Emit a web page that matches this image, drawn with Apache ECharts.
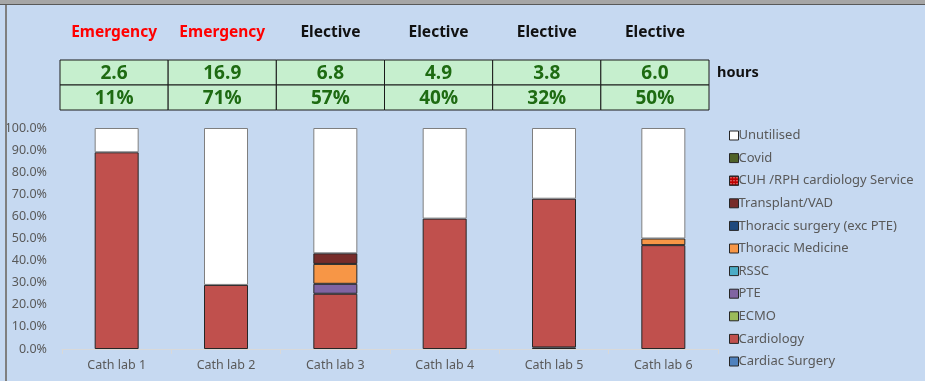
<!DOCTYPE html>
<html>
<head>
<meta charset="utf-8">
<script src="https://cdn.jsdelivr.net/npm/echarts@6/dist/echarts.min.js"></script>
<style>
html,body{margin:0;padding:0;background:#C6D9F1;}
#chart{width:925px;height:381px;}
</style>
</head>
<body>
<div id="chart"></div>
<script>
// ---- data ----
const categories = ['Cath lab 1','Cath lab 2','Cath lab 3','Cath lab 4','Cath lab 5','Cath lab 6'];
const sessionType = ['Emergency','Emergency','Elective','Elective','Elective','Elective'];
const hoursUnutilised = [2.6, 16.9, 6.8, 4.9, 3.8, 6.0];
const pctUnutilised = [11, 71, 57, 40, 32, 50];

const cardiacSurgery   = [0, 0, 0, 0, 0.007, 0];
const cardiology       = [0.89, 0.29, 0.25, 0.59, 0.673, 0.47];
const ecmo             = [0, 0, 0, 0, 0, 0];
const pte              = [0, 0, 0.045, 0, 0, 0];
const rssc             = [0, 0, 0, 0, 0, 0];
const thoracicMedicine = [0, 0, 0.09, 0, 0, 0.03];
const thoracicSurgery  = [0, 0, 0, 0, 0, 0];
const transplantVad    = [0, 0, 0.048, 0, 0, 0];
const cuhRph           = [0, 0, 0, 0, 0, 0];
const covid            = [0, 0, 0, 0, 0, 0];
const unutilised       = [0.11, 0.71, 0.567, 0.41, 0.32, 0.50];

const seriesDefs = [
  ['Cardiac Surgery', cardiacSurgery, '#4F81BD'],
  ['Cardiology', cardiology, '#C0504D'],
  ['ECMO', ecmo, '#9BBB59'],
  ['PTE', pte, '#8064A2'],
  ['RSSC', rssc, '#4BACC6'],
  ['Thoracic Medicine', thoracicMedicine, '#F79646'],
  ['Thoracic surgery (exc PTE)', thoracicSurgery, '#1F497D'],
  ['Transplant/VAD', transplantVad, '#772C2A'],
  ['CUH /RPH cardiology Service', cuhRph, '#C00000'],
  ['Covid', covid, '#4F6228'],
  ['Unutilised', unutilised, '#FFFFFF']
];

const chart = echarts.init(document.getElementById('chart'));
const labelFont = 'Noto Sans, DejaVu Sans, sans-serif';

const barSeries = seriesDefs.map(([name, vals, color]) => ({
  name: name,
  type: 'bar',
  stack: 'total',
  xAxisIndex: 0,
  yAxisIndex: 0,
  barWidth: 44,
  data: vals.map(v => v > 0 ? v : '-'),
  itemStyle: {
    color: color,
    borderColor: name === 'Unutilised' ? '#7f7f7f' : '#262626',
    borderWidth: 1,
    decal: name === 'CUH /RPH cardiology Service' ? {symbol:'circle', symbolSize:0.4, color:'#fff', dashArrayX:[3,0], dashArrayY:[3,0]} : null
  },
  emphasis: {disabled: true}
}));

const tableData = [];
categories.forEach((c, i) => {
  tableData.push([i, 1, hoursUnutilised[i]]);
  tableData.push([i, 0, pctUnutilised[i]]);
});

const tableSeries = {
  type: 'custom',
  xAxisIndex: 1,
  yAxisIndex: 1,
  data: tableData,
  silent: true,
  renderItem: function (params, api) {
    const xi = api.value(0), yi = api.value(1), v = api.value(2);
    const c = api.coord([xi, yi]);
    const s = api.size([1, 1]);
    const txt = yi === 1 ? v.toFixed(1) : Math.round(v) + '%';
    return {
      type: 'group',
      children: [
        {type: 'rect', shape: {x: c[0]-s[0]/2, y: c[1]-s[1]/2, width: s[0], height: s[1]},
         style: {fill: '#C6EFCE', stroke: '#1a1a1a', lineWidth: 1}},
        {type: 'text', style: {x: c[0], y: c[1]+1, text: txt, align: 'center', verticalAlign: 'middle',
          fill: '#1E6B12', font: 'bold 19px "Liberation Sans Narrow", "Open Sans", sans-serif'}}
      ]
    };
  }
};

chart.setOption({
  backgroundColor: '#C6D9F1',
  animation: false,
  grid: [
    {left: 62, right: 207, top: 128, bottom: 32},
    {left: 60, right: 216, top: 60, height: 50}
  ],
  legend: {
    orient: 'vertical',
    left: 724,
    top: 124,
    itemWidth: 9,
    itemHeight: 9,
    itemGap: 9.6,
    icon: 'rect',
    selectedMode: false,
    data: seriesDefs.slice().reverse().map(d => d[0]),
    textStyle: {color: '#595959', fontSize: 13, fontFamily: labelFont, padding: [0,0,0,-5]},
    itemStyle: {borderColor: '#262626', borderWidth: 1}
  },
  xAxis: [
    {type: 'category', gridIndex: 0, data: categories,
     axisLine: {lineStyle: {color: '#D9D9D9'}},
     axisTick: {show: true, lineStyle: {color: '#D9D9D9'}},
     axisLabel: {color: '#595959', fontSize: 12.5, fontFamily: labelFont, margin: 10}},
    {type: 'category', gridIndex: 1, data: categories, position: 'top',
     axisLine: {show: false}, axisTick: {show: false},
     axisLabel: {margin: 19,
       formatter: function (val, idx) { return sessionType[idx] === 'Emergency' ? '{e|Emergency}' : '{l|Elective}'; },
       rich: {
         e: {color: '#FF0000', fontWeight: 'bold', fontSize: 15.5, fontFamily: labelFont},
         l: {color: '#111111', fontWeight: 'bold', fontSize: 15.5, fontFamily: labelFont}
       }}}
  ],
  yAxis: [
    {type: 'value', gridIndex: 0, min: 0, max: 1, interval: 0.1,
     splitLine: {show: false},
     axisLine: {show: false}, axisTick: {show: false},
     axisLabel: {color: '#595959', fontSize: 12.5, fontFamily: labelFont, margin: 15,
       formatter: v => (v * 100).toFixed(1) + '%'}},
    {type: 'category', gridIndex: 1, data: ['pct', 'hours'], position: 'right',
     axisLine: {show: false}, axisTick: {show: false}, splitLine: {show: false},
     axisLabel: {margin: 8, color: '#111', fontWeight: 'bold', fontSize: 14.5, fontFamily: labelFont,
       formatter: v => v === 'hours' ? 'hours' : ''}}
  ],
  graphic: [
    {type: 'rect', shape: {x: 0, y: 0, width: 925, height: 4}, style: {fill: '#A6A6A6'}, z: 100},
    {type: 'rect', shape: {x: 0, y: 4, width: 925, height: 1}, style: {fill: '#595959'}, z: 100},
    {type: 'rect', shape: {x: 5, y: 5, width: 2, height: 376}, style: {fill: '#7F7F7F'}, z: 100}
  ],
  series: barSeries.concat([tableSeries])
});
</script>
</body>
</html>
